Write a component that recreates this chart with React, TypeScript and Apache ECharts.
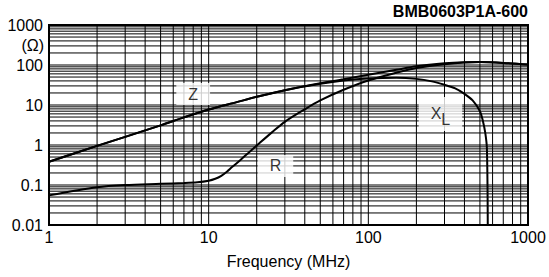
import React, { useEffect, useRef } from "react";
import * as echarts from "echarts";

// Frequency (MHz) and impedance (Ω)
const zFreq = [1, 2, 3, 5, 7, 10, 15, 20, 30, 50, 70, 100, 150, 200, 300, 400, 500, 700, 1000];
const zImp = [0.38, 0.95, 1.6, 3.1, 4.9, 7.7, 11.8, 16, 23.5, 35, 44, 57, 76, 93, 110, 117, 118, 113, 103];

const rFreq = [1, 2, 3, 5, 7, 8.5, 10, 11, 12, 13, 14, 16, 18, 20, 25, 30, 40, 50, 70, 100, 150, 200, 300, 400, 500, 700, 1000];
const rRes = [0.055, 0.088, 0.1, 0.107, 0.112, 0.117, 0.128, 0.143, 0.17, 0.215, 0.28, 0.44, 0.67, 0.97, 2.1, 3.8, 7.8, 13, 24, 41, 64, 84, 104, 115, 118, 113, 103];

const xlFreq = [1, 2, 3, 5, 7, 10, 15, 20, 30, 50, 70, 100, 150, 200, 250, 300, 350, 400, 450, 500, 520, 540, 553, 560];
const xlReact = [0.38, 0.95, 1.6, 3.1, 4.9, 7.7, 11.8, 16, 23.5, 34, 41, 46, 48, 45, 39, 32, 26, 19, 13, 7, 4.2, 2, 0.8, 0.008];

// Grid line values
const xGridValues = [2, 3, 4, 5, 6, 7, 8, 9, 10, 20, 30, 40, 50, 60, 70, 80, 90, 100, 200, 300, 400, 500, 600, 700, 800, 900];
const yGridValues = [
  0.02, 0.03, 0.04, 0.05, 0.06, 0.07, 0.08, 0.09, 0.1,
  0.2, 0.3, 0.4, 0.5, 0.6, 0.7, 0.8, 0.9, 1,
  2, 3, 4, 5, 6, 7, 8, 9, 10,
  20, 30, 40, 50, 60, 70, 80, 90, 100,
  200, 300, 400, 500, 600, 700, 800, 900,
];

// Curve labels
const labelFreq = [8, 26.2, 283];
const labelValue = [18.8, 0.3, 5.96];
const labelText = ["Z", "R", "XL"];

const X_MIN = 1, X_MAX = 1000, Y_MIN = 0.01, Y_MAX = 1000;
const FONT = "'Liberation Sans', Arial, sans-serif";

const pairs = (xs: number[], ys: number[]) => xs.map((x, i) => [x, ys[i]]);

export default function App() {
  const ref = useRef<HTMLDivElement>(null);
  useEffect(() => {
    if (!ref.current) return;
    const chart = echarts.init(ref.current, null, { renderer: "svg" });
    const curveStyle = { color: "#000", width: 2 };
    const lineSeries = (name: string, data: number[][]) => ({
      type: "line",
      name,
      z: 3,
      data,
      showSymbol: false,
      smooth: 0.3,
      lineStyle: curveStyle,
    });
    chart.setOption({
      animation: false,
      backgroundColor: "#fff",
      title: {
        text: "BMB0603P1A-600",
        right: 21,
        top: 3,
        padding: 0,
        textStyle: { fontFamily: FONT, fontSize: 16, fontWeight: "bold", color: "#000" },
      },
      graphic: [
        {
          type: "text",
          x: 44,
          y: 45,
          style: {
            text: "(Ω)",
            align: "right",
            verticalAlign: "middle",
            fontFamily: FONT,
            fontSize: 16,
            fill: "#000",
          },
        },
      ],
      grid: {
        left: 49,
        right: 21,
        top: 25,
        bottom: 52,
        outerBoundsMode: "none",
        containLabel: false,
        show: true,
        borderColor: "#000",
        borderWidth: 2,
        backgroundColor: "#fff",
      },
      xAxis: {
        type: "log",
        logBase: 10,
        min: X_MIN,
        max: X_MAX,
        splitNumber: 3,
        name: "Frequency (MHz)",
        nameLocation: "middle",
        nameGap: 28,
        nameTextStyle: { fontFamily: FONT, fontSize: 16, color: "#000" },
        axisLine: { show: true, lineStyle: { color: "#000", width: 2 } },
        axisTick: { show: false },
        splitLine: { show: false },
        axisLabel: {
          fontFamily: FONT,
          fontSize: 16,
          color: "#000",
          margin: 4,
          formatter: (v: number) => String(v),
        },
      },
      yAxis: {
        type: "log",
        logBase: 10,
        min: Y_MIN,
        max: Y_MAX,
        splitNumber: 5,
        axisLine: { show: true, lineStyle: { color: "#000", width: 2 } },
        axisTick: { show: false },
        splitLine: { show: false },
        axisLabel: {
          fontFamily: FONT,
          fontSize: 16,
          color: "#000",
          margin: 6,
          formatter: (v: number) => String(v),
        },
      },
      series: [
        {
          type: "custom",
          name: "vgrid",
          z: 1,
          silent: true,
          data: xGridValues.map((v) => [v, 1]),
          renderItem: (params: any, api: any) => {
            const v = api.value(0);
            const p1 = api.coord([v, Y_MIN]);
            const p2 = api.coord([v, Y_MAX]);
            return {
              type: "line",
              shape: { x1: p1[0], y1: p1[1], x2: p2[0], y2: p2[1] },
              style: { stroke: "#000", lineWidth: 1 },
            };
          },
        },
        {
          type: "custom",
          name: "hgrid",
          z: 1,
          silent: true,
          data: yGridValues.map((v) => [10, v]),
          renderItem: (params: any, api: any) => {
            const v = api.value(1);
            const p1 = api.coord([X_MIN, v]);
            const p2 = api.coord([X_MAX, v]);
            return {
              type: "line",
              shape: { x1: p1[0], y1: p1[1], x2: p2[0], y2: p2[1] },
              style: { stroke: "#000", lineWidth: 1 },
            };
          },
        },
        lineSeries("R", pairs(rFreq, rRes)),
        lineSeries("XL", pairs(xlFreq, xlReact)),
        lineSeries("Z", pairs(zFreq, zImp)),
        {
          type: "scatter",
          name: "labels",
          z: 5,
          silent: true,
          symbolSize: 0,
          data: labelFreq.map((f, i) => [f, labelValue[i], labelText[i]]),
          label: {
            show: true,
            position: "inside",
            backgroundColor: "#fff",
            padding: [3, 12, 3, 12],
            fontFamily: FONT,
            fontSize: 16,
            color: "#000",
            formatter: (p: any) => (p.value[2] === "XL" ? "{x|X}{l|L}" : p.value[2]),
            rich: {
              x: { fontFamily: FONT, fontSize: 16, color: "#000", padding: [0, 0, 0, 0] },
              l: { fontFamily: FONT, fontSize: 16, color: "#000", padding: [12, 0, 0, 0] },
            },
          },
        },
      ],
    });
    return () => chart.dispose();
  }, []);
  return (
    <div
      ref={ref}
      style={{ position: "fixed", left: 0, top: 0, width: 549, height: 277 }}
    />
  );
}
